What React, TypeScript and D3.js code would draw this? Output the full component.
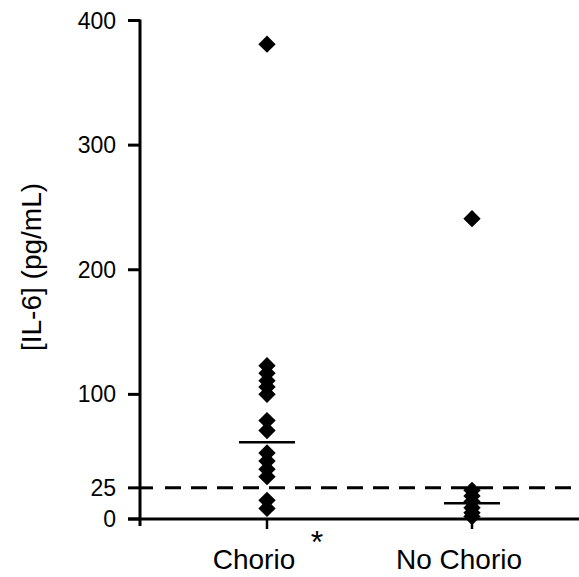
import React from "react";
import * as d3 from "d3";

const categories = ["Chorio", "No Chorio"];
const chorioValues = [381, 123, 117, 111, 106, 100, 79, 71, 53, 46.5, 40, 34, 15, 8.5];
const noChorioValues = [241, 23, 18.5, 14, 9, 5, 2];
const medians = [61.5, 12.6];
const yTicks = [0, 25, 100, 200, 300, 400];
const threshold = 25;

const W = 579;
const H = 577;

export default function App() {
  const y = d3.scaleLinear().domain([0, 400]).range([519, 20.5]);
  const x = d3.scalePoint<string>().domain(categories).range([267, 472]);
  const series = [chorioValues, noChorioValues];
  const diamond = d3.symbol().type(d3.symbolSquare).size(150)();
  const font = "'Liberation Sans', Arial, Helvetica, sans-serif";
  const axisX = 140;
  const y0 = y(0);

  return (
    <svg width={W} height={H} style={{ position: "absolute", left: 0, top: 0, background: "#fff" }}>
      <rect x={0} y={0} width={W} height={H} fill="#fff" />
      {/* threshold dashed line */}
      <line
        x1={165}
        x2={W}
        y1={y(threshold)}
        y2={y(threshold)}
        stroke="#000"
        strokeWidth={3}
        strokeDasharray="16 10"
      />
      {/* y axis */}
      <line x1={axisX} x2={axisX} y1={y(400) - 1} y2={y0 + 7} stroke="#000" strokeWidth={3} />
      {yTicks.map((t) => (
        <g key={t}>
          <line
            x1={axisX - 12}
            x2={t === 25 ? axisX + 13 : axisX}
            y1={y(t)}
            y2={y(t)}
            stroke="#000"
            strokeWidth={3}
          />
          <text
            x={116}
            y={y(t)}
            textAnchor="end"
            dominantBaseline="central"
            fontFamily={font}
            fontSize={23}
            fill="#000"
          >
            {t}
          </text>
        </g>
      ))}
      {/* x axis */}
      <line x1={axisX - 12} x2={W} y1={y0} y2={y0} stroke="#000" strokeWidth={3} />
      {categories.map((c, i) => (
        <g key={c}>
          <line x1={x(c)!} x2={x(c)!} y1={y0} y2={y0 + 10} stroke="#000" strokeWidth={2.5} />
          <text
            x={x(c)! - 13}
            y={569}
            textAnchor="middle"
            fontFamily={font}
            fontSize={28}
            fill="#000"
          >
            {c}
          </text>
        </g>
      ))}
      <text x={317} y={553} textAnchor="middle" fontFamily={font} fontSize={32} fill="#000">
        *
      </text>
      {/* y label */}
      <text
        transform={`translate(31, 267) rotate(-90)`}
        textAnchor="middle"
        dominantBaseline="central"
        fontFamily={font}
        fontSize={28}
        fill="#000"
      >
        [IL-6] (pg/mL)
      </text>
      {/* medians */}
      {categories.map((c, i) => (
        <line
          key={"m" + c}
          x1={x(c)! - 28}
          x2={x(c)! + 28}
          y1={y(medians[i])}
          y2={y(medians[i])}
          stroke="#000"
          strokeWidth={2.5}
        />
      ))}
      {/* points */}
      {categories.map((c, i) =>
        series[i].map((v, j) => (
          <path
            key={c + j}
            d={diamond!}
            transform={`translate(${x(c)}, ${y(v)}) rotate(45)`}
            fill="#000"
          />
        ))
      )}
    </svg>
  );
}
